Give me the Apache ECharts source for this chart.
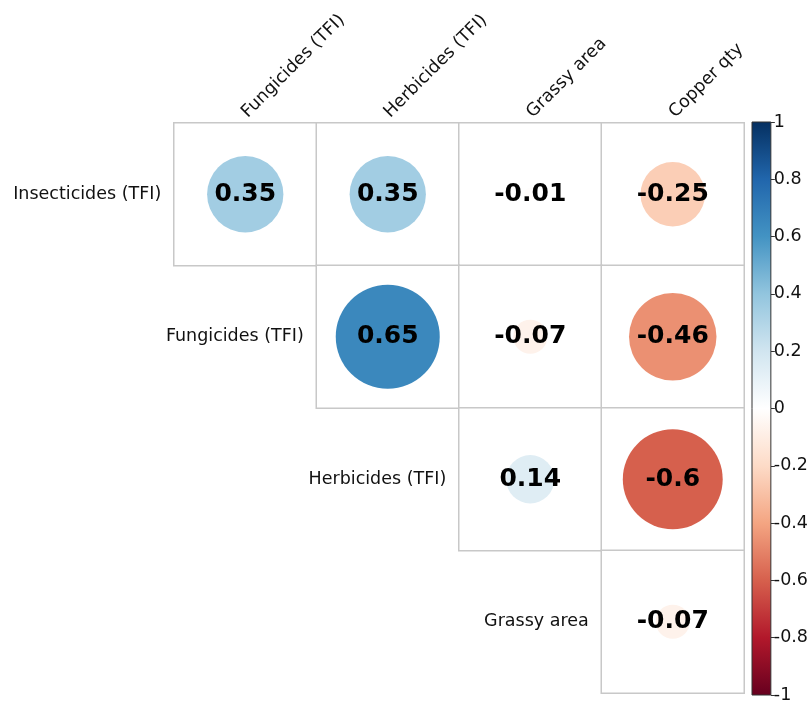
<!DOCTYPE html>
<html>
<head>
<meta charset="utf-8">
<script src="https://cdn.jsdelivr.net/npm/echarts@6/dist/echarts.min.js"></script>
<style>html,body{margin:0;padding:0;background:#fff;}#c{width:811px;height:704px;}</style>
</head>
<body>
<div id="c"></div>
<script>
// Column (x) and row (y) variable names
const columns = ['Fungicides (TFI)', 'Herbicides (TFI)', 'Grassy area', 'Copper qty'];
const rows = ['Insecticides (TFI)', 'Fungicides (TFI)', 'Herbicides (TFI)', 'Grassy area'];
// Correlation values per row, starting at the row's diagonal column (upper triangle)
const rowInsecticides = [0.35, 0.35, -0.01, -0.25];
const rowFungicides = [0.65, -0.07, -0.46];
const rowHerbicides = [0.14, -0.6];
const rowGrassy = [-0.07];
// Color bar ticks and RdBu palette (from -1 to 1)
const colorTicks = [-1, -0.8, -0.6, -0.4, -0.2, 0, 0.2, 0.4, 0.6, 0.8, 1];
const palette = ['#67001F', '#B2182B', '#D6604D', '#F4A582', '#FDDBC7', '#FFFFFF', '#D1E5F0', '#92C5DE', '#4393C3', '#2166AC', '#053061'];

const rowValues = [rowInsecticides, rowFungicides, rowHerbicides, rowGrassy];
const cells = [];
const labelsPts = [];
rowValues.forEach((vals, r) => {
  const start = columns.length - vals.length;
  vals.forEach((v, k) => cells.push([start + k, r, v]));
  labelsPts.push({ value: [start, r], name: rows[r] });
});

const FONT = 'DejaVu Sans';
const chart = echarts.init(document.getElementById('c'), null, { renderer: 'canvas' });

const posStops = [], negStops = [];
for (let i = 0; i <= 5; i++) {
  posStops.push({ offset: i / 5, color: palette[10 - i] });
  negStops.push({ offset: i / 5, color: palette[5 - i] });
}

chart.setOption({
  animation: false,
  backgroundColor: '#fff',
  grid: [
    { left: 174, top: 123, width: 570, height: 570 },
    { left: 752, top: 122, width: 21, height: 573, show: true, borderColor: '#333', borderWidth: 1, backgroundColor: 'transparent', z: 10 }
  ],
  xAxis: [
    {
      gridIndex: 0, type: 'category', data: columns, position: 'top',
      axisLine: { show: false }, axisTick: { show: false }, splitLine: { show: false },
      axisLabel: { interval: 0, rotate: -45, margin: -4, padding: [0, 0, 0, 8], verticalAlign: 'bottom', align: 'left', hideOverlap: false,
        fontFamily: FONT, fontSize: 17.5, color: '#111' }
    },
    { gridIndex: 1, type: 'category', data: ['c'], show: false }
  ],
  yAxis: [
    {
      gridIndex: 0, type: 'category', data: rows, inverse: true,
      axisLine: { show: false }, axisTick: { show: false }, axisLabel: { show: false }, splitLine: { show: false }
    },
    {
      gridIndex: 1, type: 'value', min: -1, max: 1, interval: 0.2, position: 'right',
      axisLine: { show: false },
      axisTick: { show: true, length: 4, lineStyle: { color: '#333' }, customValues: colorTicks },
      axisLabel: { margin: 3, fontFamily: FONT, fontSize: 17.5, color: '#111', customValues: colorTicks },
      splitLine: { show: false }
    }
  ],
  visualMap: {
    show: false, type: 'continuous', min: -1, max: 1, dimension: 2, seriesIndex: 1,
    inRange: { color: palette }
  },
  series: [
    {
      type: 'heatmap', xAxisIndex: 0, yAxisIndex: 0, data: cells,
      itemStyle: { color: '#fff', borderColor: '#c8c8c8', borderWidth: 1.5 },
      label: { show: false }, emphasis: { disabled: true }, z: 1
    },
    {
      type: 'scatter', xAxisIndex: 0, yAxisIndex: 0, data: cells,
      symbol: 'circle',
      symbolSize: (v) => 129 * Math.sqrt(Math.abs(v[2])),
      itemStyle: { opacity: 1 },
      label: {
        show: true, position: 'inside', formatter: (p) => String(p.value[2]),
        fontFamily: FONT, fontWeight: 'bold', fontSize: 25, color: '#000'
      },
      emphasis: { disabled: true },
      z: 3
    },
    {
      type: 'scatter', xAxisIndex: 0, yAxisIndex: 0, data: labelsPts,
      symbolSize: 0, silent: true,
      itemStyle: { opacity: 1 },
      label: { show: true, position: 'left', distance: 84, formatter: (p) => p.name,
        fontFamily: FONT, fontSize: 17.5, color: '#111' },
      z: 4
    },
    {
      type: 'bar', xAxisIndex: 1, yAxisIndex: 1, data: [1], barWidth: '100%', barGap: '-100%',
      itemStyle: { color: { type: 'linear', x: 0, y: 0, x2: 0, y2: 1, colorStops: posStops } },
      silent: true
    },
    {
      type: 'bar', xAxisIndex: 1, yAxisIndex: 1, data: [-1], barWidth: '100%', barGap: '-100%',
      itemStyle: { color: { type: 'linear', x: 0, y: 0, x2: 0, y2: 1, colorStops: negStops } },
      silent: true
    }
  ]
});
</script>
</body>
</html>
